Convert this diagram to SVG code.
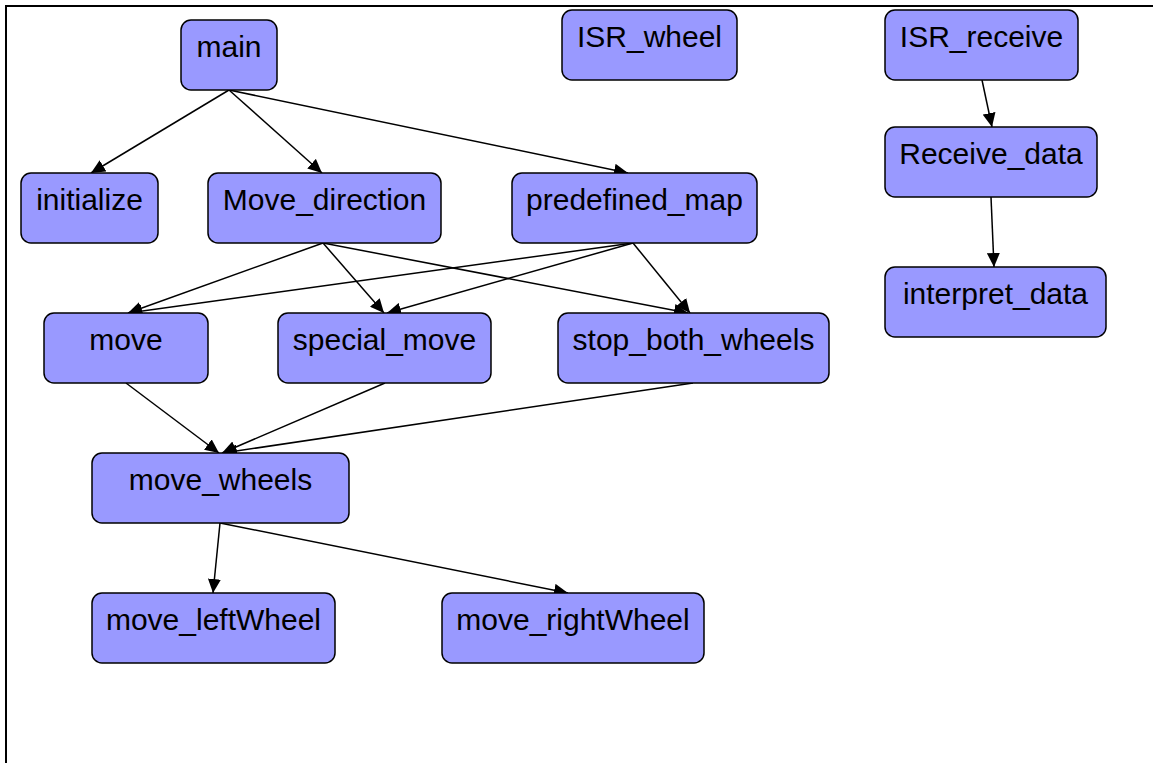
<svg xmlns="http://www.w3.org/2000/svg" width="1153" height="763" viewBox="0 0 1153 763">
  <style>
    .node rect { fill: #9999ff; stroke: #000000; stroke-width: 1.5; }
    .node text { font-family: "Liberation Sans", Arial, sans-serif; font-size: 30px; fill: #000000; text-anchor: middle; }
    .edges line { stroke: #000000; stroke-width: 1.5; marker-end: url(#arrow); }
  </style>
  <defs>
    <marker id="arrow" markerUnits="userSpaceOnUse" markerWidth="15" markerHeight="13" refX="14" refY="6.5" orient="auto">
      <path d="M0,0 L14,6.5 L0,13 z" fill="#000000"/>
    </marker>
  </defs>
  <rect x="0" y="0" width="1153" height="763" fill="#ffffff"/>
  <path d="M6,763 V6 H1153" fill="none" stroke="#000000" stroke-width="2"/>

  <g class="edges" id="connectors">
    <line x1="229" y1="90" x2="91" y2="173"/>
    <line x1="229" y1="90" x2="322" y2="173"/>
    <line x1="229" y1="90" x2="628" y2="173"/>
    <line x1="323" y1="243" x2="128" y2="313"/>
    <line x1="323" y1="243" x2="384" y2="313"/>
    <line x1="323" y1="243" x2="688" y2="313"/>
    <line x1="633" y1="243" x2="128" y2="313"/>
    <line x1="633" y1="243" x2="387" y2="313"/>
    <line x1="633" y1="243" x2="690" y2="313"/>
    <line x1="126" y1="383" x2="219" y2="453"/>
    <line x1="385" y1="383" x2="222" y2="453"/>
    <line x1="693" y1="383" x2="223" y2="453"/>
    <line x1="220" y1="523" x2="213" y2="593"/>
    <line x1="220" y1="523" x2="568" y2="593"/>
    <line x1="982" y1="80" x2="992" y2="127"/>
    <line x1="991" y1="197" x2="994" y2="267"/>
  </g>

  <g class="node" id="main"><rect x="181" y="20" width="96" height="70" rx="10"/><text x="229" y="57">main</text></g>
  <g class="node" id="ISR_wheel"><rect x="562" y="10" width="175" height="70" rx="10"/><text x="649.5" y="47">ISR_wheel</text></g>
  <g class="node" id="ISR_receive"><rect x="885" y="10" width="193" height="70" rx="10"/><text x="981.5" y="47">ISR_receive</text></g>
  <g class="node" id="initialize"><rect x="21" y="173" width="137" height="70" rx="10"/><text x="89.5" y="210">initialize</text></g>
  <g class="node" id="Move_direction"><rect x="208" y="173" width="233" height="70" rx="10"/><text x="324.5" y="210">Move_direction</text></g>
  <g class="node" id="predefined_map"><rect x="512" y="173" width="245" height="70" rx="10"/><text x="634.5" y="210">predefined_map</text></g>
  <g class="node" id="Receive_data"><rect x="885" y="127" width="212" height="70" rx="10"/><text x="991" y="164">Receive_data</text></g>
  <g class="node" id="move"><rect x="44" y="313" width="164" height="70" rx="10"/><text x="126" y="350">move</text></g>
  <g class="node" id="special_move"><rect x="278" y="313" width="213" height="70" rx="10"/><text x="384.5" y="350">special_move</text></g>
  <g class="node" id="stop_both_wheels"><rect x="558" y="313" width="271" height="70" rx="10"/><text x="693.5" y="350">stop_both_wheels</text></g>
  <g class="node" id="interpret_data"><rect x="885" y="267" width="221" height="70" rx="10"/><text x="995.5" y="304">interpret_data</text></g>
  <g class="node" id="move_wheels"><rect x="92" y="453" width="257" height="70" rx="10"/><text x="220.5" y="490">move_wheels</text></g>
  <g class="node" id="move_leftWheel"><rect x="92" y="593" width="243" height="70" rx="10"/><text x="213.5" y="630">move_leftWheel</text></g>
  <g class="node" id="move_rightWheel"><rect x="442" y="593" width="262" height="70" rx="10"/><text x="573" y="630">move_rightWheel</text></g>
</svg>
